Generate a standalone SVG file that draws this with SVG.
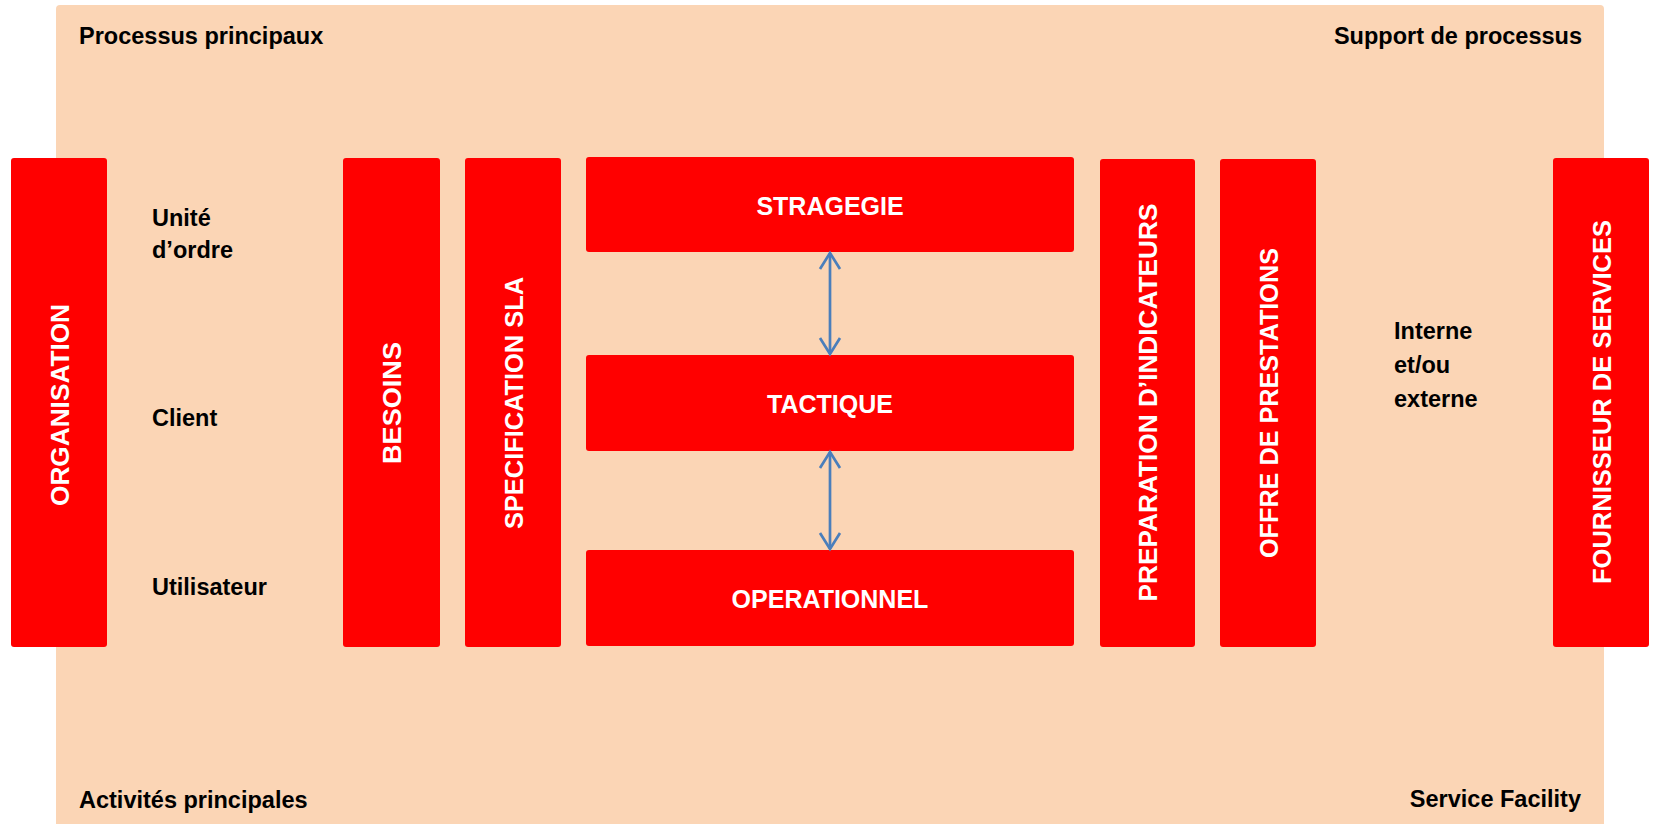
<svg xmlns="http://www.w3.org/2000/svg" width="1653" height="824" viewBox="0 0 1653 824">
<style>
.box{fill:#FF0000;}
.bl{font-family:"Liberation Sans",Arial,sans-serif;font-weight:bold;font-size:25px;fill:#FFFFFF;text-anchor:middle;}
.bv{font-size:26px;}
.lbl{font-family:"Liberation Sans",Arial,sans-serif;font-weight:bold;font-size:23.5px;fill:#000000;}
.conn{stroke:#4A7EBB;stroke-width:2.7;fill:none;}
</style>
<defs>
<marker id="vh" markerUnits="userSpaceOnUse" viewBox="-20 -14 24 28" markerWidth="24" markerHeight="28" refX="0" refY="0" orient="auto-start-reverse" overflow="visible">
<path d="M -16 -10 L 0 0 L -16 10" fill="none" stroke="#4A7EBB" stroke-width="2.7" stroke-linejoin="miter"/>
</marker>
</defs>
<rect x="0" y="0" width="1653" height="824" fill="#FFFFFF"/>
<g id="background">
<rect x="56" y="5" width="1548" height="830" rx="4" fill="#FBD5B5"/>
<text class="lbl" x="79" y="44">Processus principaux</text>
<text class="lbl" x="1582" y="44" text-anchor="end">Support de processus</text>
<text class="lbl" x="79" y="808">Activités principales</text>
<text class="lbl" x="1581" y="807" text-anchor="end">Service Facility</text>
</g>
<g id="labels-left">
<text class="lbl" x="152" y="226">Unité</text>
<text class="lbl" x="152" y="258">d’ordre</text>
<text class="lbl" x="152" y="426">Client</text>
<text class="lbl" x="152" y="595">Utilisateur</text>
</g>
<g id="labels-right">
<text class="lbl" x="1394" y="339">Interne</text>
<text class="lbl" x="1394" y="373">et/ou</text>
<text class="lbl" x="1394" y="407">externe</text>
</g>
<g id="organisation">
<rect class="box" x="11" y="158" width="96" height="489" rx="3"/>
<text class="bl bv" transform="translate(68.5,405) rotate(-90)" textLength="202" lengthAdjust="spacingAndGlyphs">ORGANISATION</text>
</g>
<g id="besoins">
<rect class="box" x="343" y="158" width="97" height="489" rx="3"/>
<text class="bl bv" transform="translate(400.5,403) rotate(-90)" textLength="122" lengthAdjust="spacingAndGlyphs">BESOINS</text>
</g>
<g id="specification">
<rect class="box" x="465" y="158" width="96" height="489" rx="3"/>
<text class="bl bv" transform="translate(522.5,403) rotate(-90)" textLength="252" lengthAdjust="spacingAndGlyphs">SPECIFICATION SLA</text>
</g>
<g id="strategie">
<rect class="box" x="586" y="157" width="488" height="95" rx="3"/>
<text class="bl" x="830" y="215">STRAGEGIE</text>
</g>
<g id="tactique">
<rect class="box" x="586" y="355" width="488" height="96" rx="3"/>
<text class="bl" x="830" y="413">TACTIQUE</text>
</g>
<g id="operationnel">
<rect class="box" x="586" y="550" width="488" height="96" rx="3"/>
<text class="bl" x="830" y="608">OPERATIONNEL</text>
</g>
<g id="preparation">
<rect class="box" x="1100" y="159" width="95" height="488" rx="3"/>
<text class="bl bv" transform="translate(1156.5,402.5) rotate(-90)" textLength="398" lengthAdjust="spacingAndGlyphs">PREPARATION D’INDICATEURS</text>
</g>
<g id="offre">
<rect class="box" x="1220" y="159" width="96" height="488" rx="3"/>
<text class="bl bv" transform="translate(1277.5,403) rotate(-90)" textLength="310" lengthAdjust="spacingAndGlyphs">OFFRE DE PRESTATIONS</text>
</g>
<g id="fournisseur">
<rect class="box" x="1553" y="158" width="96" height="489" rx="3"/>
<text class="bl bv" transform="translate(1610.5,402) rotate(-90)" textLength="364" lengthAdjust="spacingAndGlyphs">FOURNISSEUR DE SERVICES</text>
</g>
<g id="connectors">
<line class="conn" x1="830" y1="253" x2="830" y2="354" marker-start="url(#vh)" marker-end="url(#vh)"/>
<line class="conn" x1="830" y1="452" x2="830" y2="549" marker-start="url(#vh)" marker-end="url(#vh)"/>
</g>
</svg>
